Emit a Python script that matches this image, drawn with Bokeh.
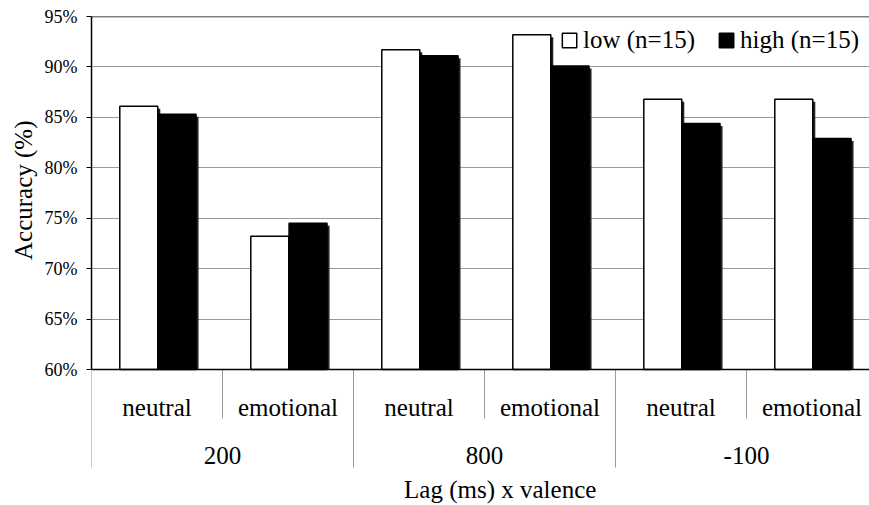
from bokeh.plotting import figure
from bokeh.models import Range1d, FixedTicker, Span, Legend, LegendItem, Title
from bokeh.core.properties import value
from bokeh.embed import file_html
from bokeh.resources import INLINE

# ---- data ----
lags = ["200", "800", "-100"]
valences = ["neutral", "emotional"]
low = [86.1, 73.2, 91.7, 93.2, 86.8, 86.8]
high = [85.3, 74.5, 91.1, 90.1, 84.4, 82.9]
series_names = ["low (n=15)", "high (n=15)"]
y_ticks = [60, 65, 70, 75, 80, 85, 90, 95]
x_title = "Lag (ms) x valence"
y_title = "Accuracy (%)"

FONT = "Liberation Serif"
W, H = 869, 505
LEFT, TOP = 91, 16
PLOT_PX = 353          # pixel height of the 60..95 band
CAT_PX = 131.0
frame_w = W - LEFT
frame_h = H - TOP
y0, y1 = y_ticks[0], y_ticks[-1]
ppu = PLOT_PX / (y1 - y0)  # pixels per percent
y_start = y1 - frame_h / ppu

p = figure(width=W, height=H, output_backend="svg", toolbar_location=None,
           x_range=Range1d(0, frame_w / CAT_PX), y_range=Range1d(y_start, y1),
           min_border_left=LEFT, min_border_right=0, min_border_top=TOP,
           min_border_bottom=0)
p.outline_line_color = None
p.background_fill_color = "white"
p.border_fill_color = "white"
p.xaxis.visible = False
p.xgrid.visible = False
p.ygrid.grid_line_color = "#9a9a9a"
p.ygrid.grid_line_width = 1

ya = p.yaxis[0]
ya.bounds = (y0, y1)
ya.ticker = FixedTicker(ticks=y_ticks)
ya.major_label_overrides = {t: f"{t}%" for t in y_ticks}
ya.major_label_text_font = FONT
ya.major_label_text_font_size = "18px"
ya.major_label_text_color = "black"
ya.major_tick_out = 5
ya.major_tick_in = 0
ya.minor_tick_line_color = None
ya.major_tick_line_color = "black"
ya.axis_line_color = "black"
ya.axis_line_width = 1.5
ya.major_label_standoff = 9
ya.axis_label = None

ytitle = Title(text=y_title, align="right", offset=104, text_font=FONT,
               text_font_size="25px", text_font_style="normal", text_color="black",
               standoff=9)
p.add_layout(ytitle, "left")

n = len(low)
bw = 0.29
x_low = [i + 0.361 for i in range(n)]
x_high = [i + 0.653 for i in range(n)]

# subtle drop shadows
sdx = 2.5 / CAT_PX
sdy = 2.5 / ppu
p.vbar(x=[x + sdx for x in x_low], top=[v - sdy for v in low], bottom=y0, width=bw,
       fill_color="#222222", line_color=None)
p.vbar(x=[x + sdx for x in x_high], top=[v - sdy for v in high], bottom=y0, width=bw,
       fill_color="#222222", line_color=None)

r_low = p.vbar(x=x_low, top=low, bottom=y0, width=bw, fill_color="white",
               line_color="black", line_width=1.5)
r_high = p.vbar(x=x_high, top=high, bottom=y0, width=bw, fill_color="black",
                line_color="black", line_width=1.5)

p.add_layout(Span(location=y1, dimension="width", line_color="black", line_width=1.5))

# separators below the axis
sep_x = list(range(n + 1))
sep_bottom = [y0 - (98 if k % 2 == 0 else 49) / ppu for k in sep_x]
p.segment(x0=sep_x, y0=[y0] * len(sep_x), x1=sep_x, y1=sep_bottom,
          line_color="#9a9a9a", line_width=1)
p.segment(x0=[0], y0=[y0], x1=[frame_w / CAT_PX], y1=[y0], line_color="black",
          line_width=1.5)

# category labels below the axis
y_sub = y0 - 38 / ppu
y_grp = y0 - 86 / ppu
y_ttl = y0 - 120 / ppu
p.text(x=[i + 0.5 for i in range(n)], y=[y_sub] * n,
       text=[valences[i % len(valences)] for i in range(n)],
       text_font=value(FONT), text_font_size="25px", text_align="center",
       text_baseline="middle", text_color="black")
p.text(x=[g * 2 + 1 for g in range(len(lags))], y=[y_grp] * len(lags), text=lags,
       text_font=value(FONT), text_font_size="25px", text_align="center",
       text_baseline="middle", text_color="black")
p.text(x=[3.12], y=[y_ttl], text=[x_title], text_font=value(FONT),
       text_font_size="25px", text_align="center", text_baseline="middle",
       text_color="black")

legend = Legend(items=[LegendItem(label=series_names[0], renderers=[r_low]),
                       LegendItem(label=series_names[1], renderers=[r_high])],
                location="top_right", orientation="horizontal")
legend.border_line_color = None
legend.background_fill_alpha = 0
legend.label_text_font = FONT
legend.label_text_font_size = "25px"
legend.label_text_color = "black"
legend.glyph_width = 18
legend.glyph_height = 18
legend.label_standoff = 5
legend.spacing = 22
legend.padding = 2
legend.margin = 10
p.add_layout(legend)

open("out.html", "w").write(file_html(p, INLINE))
